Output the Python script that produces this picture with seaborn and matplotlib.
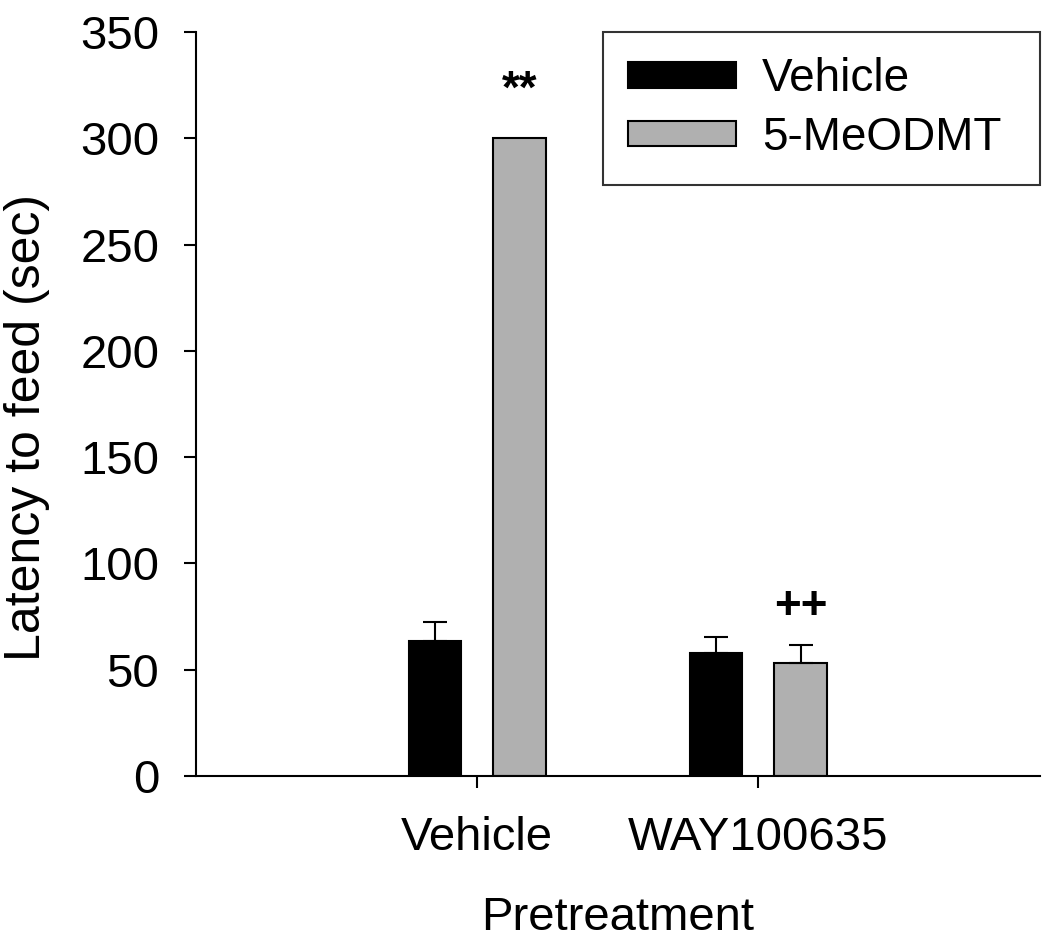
import pandas as pd
import numpy as np
import matplotlib
matplotlib.use("Agg")
import matplotlib.pyplot as plt
import seaborn as sns

pretreatment = ["Vehicle", "WAY100635"]
treatments = ["Vehicle", "5-MeODMT"]
vehicle_mean = [63.5, 58.0]
vehicle_sem = [9.0, 7.5]
meodmt_mean = [300.0, 53.3]
meodmt_sem = [0.0, 8.3]
marks = ["**", "++"]
mark_y = [317, 74]

df = pd.DataFrame({
    "Pretreatment": pretreatment * 2,
    "Treatment": [treatments[0]] * 2 + [treatments[1]] * 2,
    "Latency": vehicle_mean + meodmt_mean,
    "SEM": vehicle_sem + meodmt_sem,
})

sns.set_style("ticks")
plt.rcParams["font.family"] = ["Liberation Sans", "DejaVu Sans"]
for k in ["text.color", "axes.labelcolor", "xtick.color", "ytick.color", "axes.edgecolor"]:
    plt.rcParams[k] = "black"

fig = plt.figure(figsize=(10.5, 9.44), dpi=100)
ax = fig.add_axes([0.1867, 0.178, 0.8033, 0.788])

colors = {"Vehicle": "#000000", "5-MeODMT": "#B0B0B0"}
sns.barplot(data=df, x="Pretreatment", y="Latency", hue="Treatment",
            hue_order=treatments, order=pretreatment, palette=colors,
            width=0.6, gap=0.38, errorbar=None, edgecolor="black",
            linewidth=1.5, ax=ax)

# error bars (upper only) from the bars seaborn drew
for cont, t in zip(ax.containers, treatments):
    sub = df[df["Treatment"] == t].set_index("Pretreatment").loc[pretreatment]
    for bar, m, e in zip(cont, sub["Latency"], sub["SEM"]):
        if e <= 0:
            continue
        xc = bar.get_x() + bar.get_width() / 2
        ax.errorbar(xc, m, yerr=[[0], [e]], fmt="none", ecolor="black",
                    elinewidth=1.5, capsize=8.5, capthick=1.5, zorder=1)

# significance marks above the 5-MeODMT bars
for bar, s, yy in zip(ax.containers[1], marks, mark_y):
    xc = bar.get_x() + bar.get_width() / 2
    ax.text(xc, yy, s, ha="center", va="baseline", fontsize=33,
            fontweight="bold")

ax.set_xlim(-1, 2)
ax.set_ylim(0, 350)
ax.set_yticks(np.arange(0, 351, 50))
sns.despine(ax=ax)
ax.spines["left"].set_linewidth(1.5)
ax.spines["bottom"].set_linewidth(1.5)
ax.tick_params(axis="both", labelsize=34, width=1.5, length=8.5)
ax.tick_params(axis="x", pad=20)
ax.tick_params(axis="y", pad=18)
ax.set_xlabel("Pretreatment", fontsize=34, labelpad=26)
ax.set_ylabel("Latency to feed (sec)", fontsize=36)
ax.yaxis.set_label_coords(-0.173, 0.468)

leg = ax.legend(loc="upper left", bbox_to_anchor=(0.482, 0.792, 0.518, 0.208),
                mode="expand", fontsize=33, frameon=True, fancybox=False,
                edgecolor="black", handlelength=2.36, handleheight=0.48,
                handletextpad=0.57, borderpad=0.55, labelspacing=0.32,
                borderaxespad=0.0)
leg.get_frame().set_linewidth(1.5)
leg.set_title(None)

fig.savefig("out.png", dpi=100)
